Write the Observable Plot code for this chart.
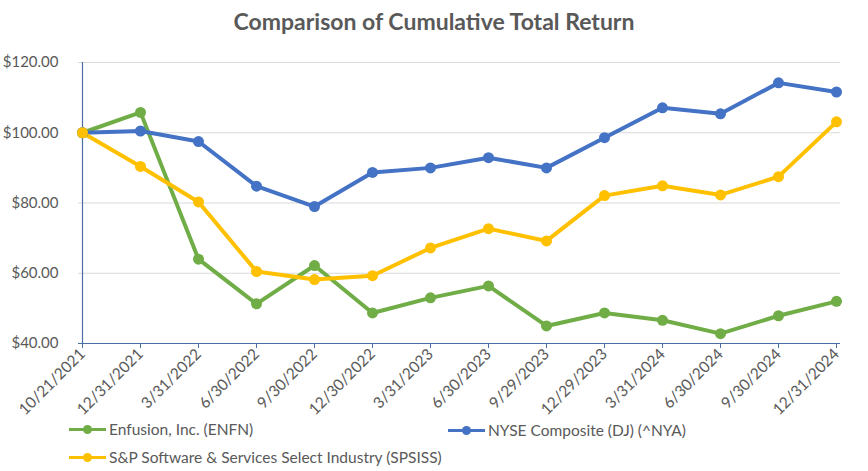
<!DOCTYPE html>
<html>
<head>
<meta charset="utf-8">
<script src="https://cdn.jsdelivr.net/npm/d3@7"></script>
<script src="https://cdn.jsdelivr.net/npm/@observablehq/plot@0.6"></script>
<style>
  html, body { margin: 0; padding: 0; background: #fff; }
  #wrap { position: relative; width: 868px; height: 471px; font-family: Lato, "Open Sans", sans-serif; color: #595959; overflow: hidden; }
  #title { position: absolute; left: 0; top: 7px; width: 868px; text-align: center; font-size: 23px; font-weight: bold; color: #595959; }
  #chart { position: absolute; left: 0; top: 45px; }
  #chart svg { overflow: visible; }
  .leg { position: absolute; display: flex; align-items: center; font-size: 15.5px; color: #595959; white-space: nowrap; }
  .sw { position: relative; width: 37px; height: 12px; margin-right: 3px; }
  .sw .ln { position: absolute; left: 0; right: 0; top: 4.5px; height: 3.5px; }
  .sw .dt { position: absolute; left: 14px; top: 2px; width: 9px; height: 9px; border-radius: 50%; }
</style>
</head>
<body>
<div id="wrap">
  <div id="title">Comparison of Cumulative Total Return</div>
  <div id="chart"></div>
  <div id="legend"></div>
</div>
<script>
const dates = ["10/21/2021","12/31/2021","3/31/2022","6/30/2022","9/30/2022","12/30/2022","3/31/2023","6/30/2023","9/29/2023","12/29/2023","3/31/2024","6/30/2024","9/30/2024","12/31/2024"];
const enfn   = [100, 105.8, 64.0, 51.3, 62.2, 48.7, 53.0, 56.4, 45.0, 48.7, 46.6, 42.8, 47.9, 52.0];
const nya    = [100, 100.5, 97.5, 84.8, 79.0, 88.7, 90.0, 92.9, 90.0, 98.6, 107.1, 105.4, 114.2, 111.6];
const spsiss = [100, 90.4, 80.3, 60.5, 58.2, 59.3, 67.2, 72.7, 69.2, 82.1, 84.9, 82.3, 87.5, 103.1];
const seriesNames = ["Enfusion, Inc. (ENFN)", "NYSE Composite (DJ) (^NYA)", "S&P Software & Services Select Industry (SPSISS)"];
const seriesColors = ["#70AD47", "#4472C4", "#FFC000"];
const yTicks = [40, 60, 80, 100, 120];

const seriesValues = [enfn, nya, spsiss];
const data = seriesNames.flatMap((s, i) => dates.map((d, j) => ({series: s, date: d, value: seriesValues[i][j]})));
const axisColor = "#4a6fa5";

const chart = Plot.plot({
  width: 868,
  height: 385,
  marginLeft: 78,
  marginRight: 28,
  marginTop: 17,
  marginBottom: 87,
  x: {type: "point", domain: dates, padding: 0},
  y: {domain: [40, 120]},
  color: {domain: seriesNames, range: seriesColors},
  style: {fontFamily: "Lato, 'Open Sans', sans-serif", fontSize: "15px", color: "#595959", background: "transparent"},
  marks: [
    Plot.gridY(yTicks.filter(t => t > 40), {stroke: "#d9d9d9", strokeOpacity: 1, strokeWidth: 1}),
    Plot.axisY({ticks: yTicks, tickFormat: d => "$" + d.toFixed(2), tickSize: 0, tickPadding: 20, label: null, fill: "#595959", fontSize: 15}),
    Plot.axisX({tickRotate: -45, tickSize: 5, tickPadding: 3, label: null, stroke: axisColor, fill: "#595959", fontSize: 15.5}),
    Plot.ruleY([40], {stroke: axisColor, strokeWidth: 1.2}),
    Plot.ruleX([dates[0]], {stroke: axisColor, strokeWidth: 1.2}),
    Plot.line(data, {x: "date", y: "value", z: "series", stroke: "series", strokeWidth: 4, strokeLinejoin: "round", strokeLinecap: "round"}),
    Plot.dot(data, {x: "date", y: "value", fill: "series", r: 5.5, stroke: "none"})
  ]
});
document.getElementById("chart").appendChild(chart);

const legPos = [[69, 430], [448, 431], [69, 458]];
const legend = document.getElementById("legend");
seriesNames.forEach((name, i) => {
  const el = document.createElement("div");
  el.className = "leg";
  el.style.left = legPos[i][0] + "px";
  el.style.top = (legPos[i][1] - 10) + "px";
  el.innerHTML = `<div class="sw"><div class="ln" style="background:${seriesColors[i]}"></div><div class="dt" style="background:${seriesColors[i]}"></div></div><span>${name}</span>`;
  legend.appendChild(el);
});
</script>
</body>
</html>
